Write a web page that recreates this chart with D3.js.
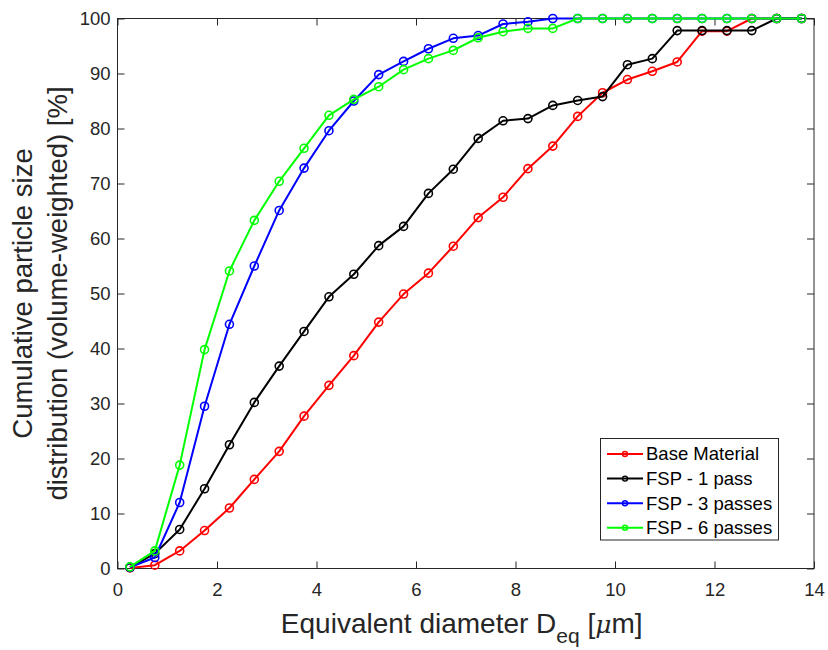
<!DOCTYPE html>
<html>
<head>
<meta charset="utf-8">
<script src="https://cdn.jsdelivr.net/npm/d3@7"></script>
<style>
  html, body { margin: 0; padding: 0; background: #fff; }
  svg { display: block; font-family: "Liberation Sans", Arial, Helvetica, sans-serif; }
</style>
</head>
<body>
<svg id="chart" width="828" height="650"></svg>
<script>
// ---- data ----
const diameters = [0.25, 0.75, 1.25, 1.75, 2.25, 2.75, 3.25, 3.75, 4.25, 4.75, 5.25, 5.75, 6.25, 6.75,
                   7.25, 7.75, 8.25, 8.75, 9.25, 9.75, 10.25, 10.75, 11.25, 11.75, 12.25, 12.75, 13.25, 13.75];
const baseMaterial = [0.1, 0.6, 3.2, 6.9, 11.0, 16.2, 21.3, 27.7, 33.3, 38.7, 44.8, 49.9, 53.7, 58.6,
                      63.8, 67.5, 72.7, 76.8, 82.2, 86.5, 88.9, 90.4, 92.1, 97.7, 97.7, 100, 100, 100];
const fsp1 = [0.2, 2.7, 7.1, 14.5, 22.5, 30.2, 36.8, 43.1, 49.4, 53.5, 58.7, 62.2, 68.2, 72.6,
              78.2, 81.4, 81.8, 84.2, 85.1, 85.8, 91.6, 92.7, 97.8, 97.8, 97.8, 97.8, 100, 100];
const fsp3 = [0.2, 2.0, 12.0, 29.5, 44.4, 55.0, 65.1, 72.8, 79.6, 85.0, 89.8, 92.2, 94.5, 96.4,
              96.9, 99.0, 99.4, 100, 100, 100, 100, 100, 100, 100, 100, 100, 100, 100];
const fsp6 = [0.3, 3.2, 18.8, 39.8, 54.1, 63.3, 70.4, 76.4, 82.4, 85.3, 87.6, 90.7, 92.7, 94.2,
              96.5, 97.6, 98.2, 98.2, 100, 100, 100, 100, 100, 100, 100, 100, 100, 100];
const seriesNames = ["Base Material", "FSP - 1 pass", "FSP - 3 passes", "FSP - 6 passes"];
const seriesColors = ["#ff0000", "#000000", "#0000ff", "#00ff00"];
const xTicks = [0, 2, 4, 6, 8, 10, 12, 14];
const yTicks = [0, 10, 20, 30, 40, 50, 60, 70, 80, 90, 100];

const seriesValues = [baseMaterial, fsp1, fsp3, fsp6];

// ---- layout ----
const svg = d3.select("#chart");
const L = 117.5, R = 814, T = 18.5, B = 568.5;
const axisColor = "#262626";

const x = d3.scaleLinear().domain([0, 14]).range([L, R]);
const y = d3.scaleLinear().domain([0, 100]).range([B, T]);

// axes box
svg.append("rect").attr("x", L).attr("y", T).attr("width", R - L).attr("height", B - T)
  .attr("fill", "none").attr("stroke", axisColor).attr("stroke-width", 1);

const tickLen = 7;
const gx = svg.append("g").attr("transform", `translate(0,${B})`)
  .call(d3.axisBottom(x).tickValues(xTicks).tickSizeInner(-tickLen).tickSizeOuter(0).tickPadding(14));
const gxt = svg.append("g").attr("transform", `translate(0,${T})`)
  .call(d3.axisTop(x).tickValues(xTicks).tickSizeInner(-tickLen).tickSizeOuter(0).tickFormat(""));
const gy = svg.append("g").attr("transform", `translate(${L},0)`)
  .call(d3.axisLeft(y).tickValues(yTicks).tickSizeInner(-tickLen).tickSizeOuter(0).tickPadding(14));
const gyr = svg.append("g").attr("transform", `translate(${R},0)`)
  .call(d3.axisRight(y).tickValues(yTicks).tickSizeInner(-tickLen).tickSizeOuter(0).tickFormat(""));

[gx, gxt, gy, gyr].forEach(a => {
  a.select(".domain").remove();
  a.selectAll(".tick line").attr("stroke", axisColor);
  a.selectAll("text").attr("fill", axisColor).style("font-size", "18.5px")
    .style("font-family", "'Liberation Sans', Arial, sans-serif");
});
gx.selectAll(".tick text").attr("dy", "0.71em").attr("y", 14);
gy.selectAll(".tick text").attr("x", -7);

// ---- series ----
const line = d3.line().x(d => x(d[0])).y(d => y(d[1]));
seriesValues.forEach((vals, i) => {
  const pts = diameters.map((d, k) => [d, vals[k]]);
  const sg = svg.append("g");
  sg.append("path").datum(pts).attr("d", line)
    .attr("fill", "none").attr("stroke", seriesColors[i]).attr("stroke-width", 2)
    .attr("stroke-linejoin", "round");
  sg.selectAll("circle").data(pts).enter().append("circle")
    .attr("cx", d => x(d[0])).attr("cy", d => y(d[1])).attr("r", 4)
    .attr("fill", "none").attr("stroke", seriesColors[i]).attr("stroke-width", 1.6);
});

// ---- axis labels ----
const xl = svg.append("text").attr("x", (L + R) / 2 - 4).attr("y", 633)
  .attr("text-anchor", "middle").attr("fill", axisColor).style("font-size", "28px");
xl.append("tspan").text("Equivalent diameter D");
xl.append("tspan").attr("dy", 10).style("font-size", "21px").text("eq");
xl.append("tspan").attr("dy", -10).text(" [");
xl.append("tspan").style("font-style", "italic").style("font-family", "'DejaVu Serif', 'Liberation Serif', serif").style("font-size", "25px").text("\u03BC");
xl.append("tspan").text("m]");

const yl = svg.append("text").attr("transform", `translate(0,293.5) rotate(-90)`)
  .attr("text-anchor", "middle").attr("fill", axisColor).style("font-size", "27.5px");
yl.append("tspan").attr("x", 0).attr("y", 32).text("Cumulative particle size");
yl.append("tspan").attr("x", 0).attr("y", 67).text("distribution (volume-weighted) [%]");

// ---- legend ----
const lg = svg.append("g");
lg.append("rect").attr("x", 600.5).attr("y", 438.5).attr("width", 178).attr("height", 101.5)
  .attr("fill", "#fff").attr("stroke", axisColor).attr("stroke-width", 1);
seriesNames.forEach((name, i) => {
  const cy = 454 + i * 24.6;
  lg.append("line").attr("x1", 607).attr("x2", 643).attr("y1", cy).attr("y2", cy)
    .attr("stroke", seriesColors[i]).attr("stroke-width", 2);
  lg.append("circle").attr("cx", 625).attr("cy", cy).attr("r", 2.5)
    .attr("fill", "none").attr("stroke", seriesColors[i]).attr("stroke-width", 1.4);
  lg.append("text").attr("x", 646).attr("y", cy).attr("dy", "0.35em")
    .attr("fill", "#000").style("font-size", "18.5px").text(name);
});
</script>
</body>
</html>
